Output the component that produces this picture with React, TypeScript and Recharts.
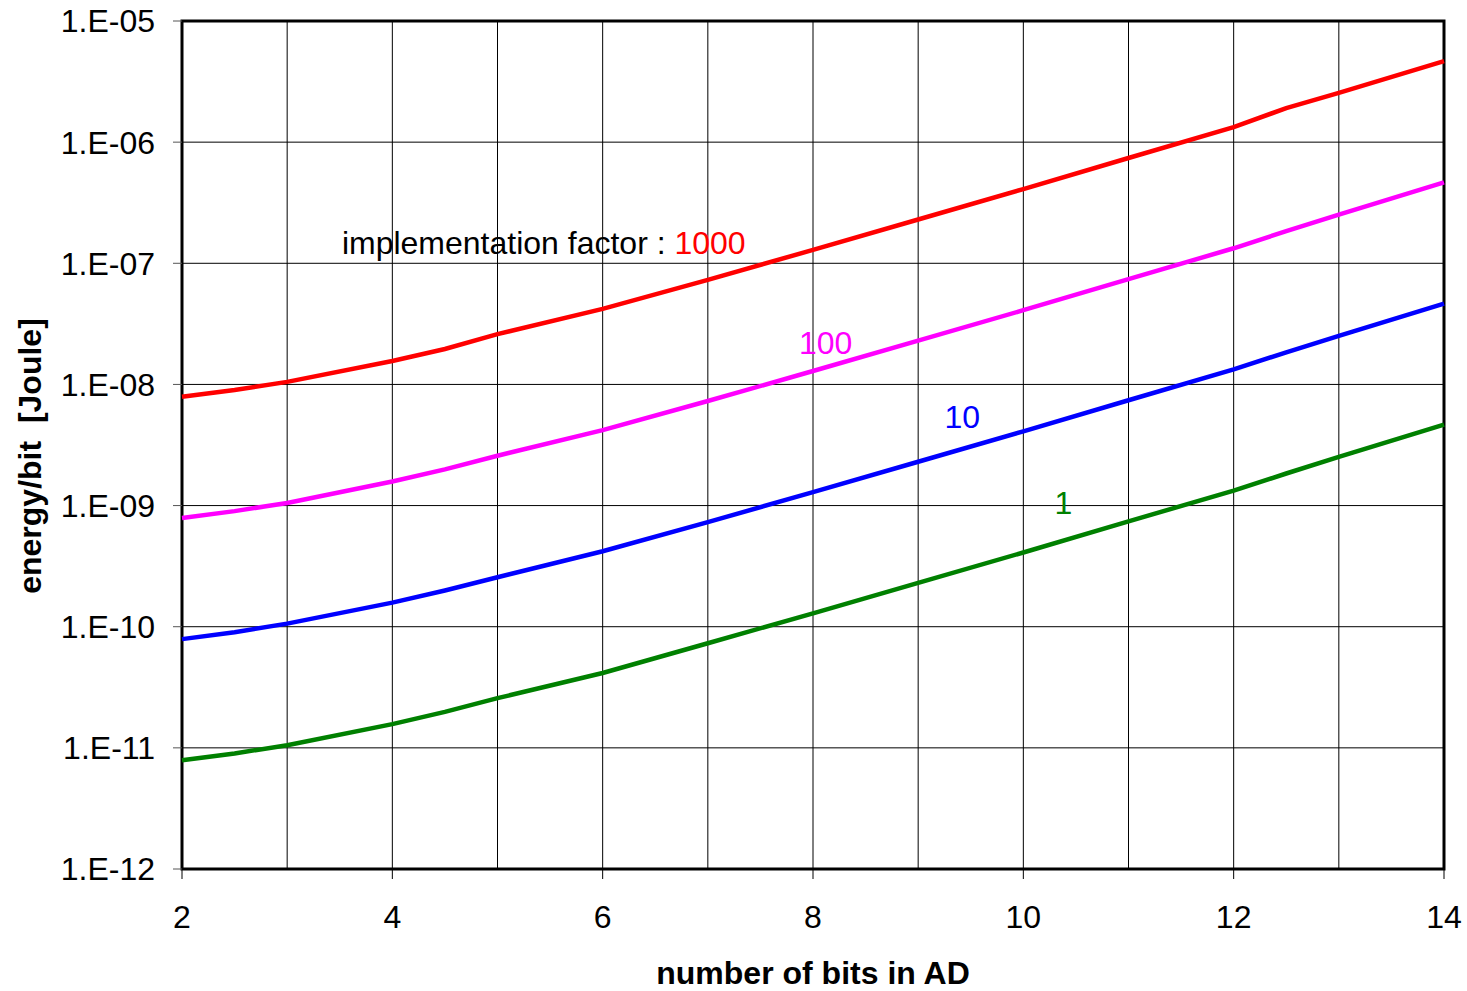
import { CartesianGrid, Line, LineChart, ReferenceArea, ReferenceDot, ReferenceLine, XAxis, YAxis } from 'recharts'

const bits = [2, 2.5, 3, 4, 4.5, 5, 6, 7, 8, 9, 10, 11, 12, 12.5, 13, 14]

// energy per bit [J] for each implementation factor
const factor1000 = [7.9e-9, 9.0e-9, 1.05e-8, 1.56e-8, 1.96e-8, 2.6e-8, 4.2e-8, 7.3e-8, 1.29e-7, 2.3e-7, 4.1e-7, 7.4e-7, 1.33e-6, 1.91e-6, 2.55e-6, 4.67e-6]
const factor100 = [7.9e-10, 9.0e-10, 1.05e-9, 1.58e-9, 1.99e-9, 2.58e-9, 4.2e-9, 7.3e-9, 1.29e-8, 2.3e-8, 4.1e-8, 7.4e-8, 1.33e-7, 1.84e-7, 2.52e-7, 4.65e-7]
const factor10 = [7.9e-11, 9.0e-11, 1.06e-10, 1.58e-10, 1.99e-10, 2.56e-10, 4.2e-10, 7.3e-10, 1.29e-9, 2.3e-9, 4.1e-9, 7.4e-9, 1.33e-8, 1.84e-8, 2.52e-8, 4.65e-8]
const factor1 = [7.9e-12, 9.0e-12, 1.05e-11, 1.57e-11, 1.98e-11, 2.57e-11, 4.15e-11, 7.3e-11, 1.29e-10, 2.3e-10, 4.1e-10, 7.4e-10, 1.33e-9, 1.84e-9, 2.52e-9, 4.65e-9]

const xTicks = [2, 4, 6, 8, 10, 12, 14]
const xGrid = [3, 4, 5, 6, 7, 8, 9, 10, 11, 12, 13]
const yTicks = [1e-12, 1e-11, 1e-10, 1e-9, 1e-8, 1e-7, 1e-6, 1e-5]
const yTickLabels = ['1.E-12', '1.E-11', '1.E-10', '1.E-09', '1.E-08', '1.E-07', '1.E-06', '1.E-05']

const data = bits.map((b, i) => ({
  bits: b,
  f1000: factor1000[i],
  f100: factor100[i],
  f10: factor10[i],
  f1: factor1[i]
}))

const FONT = '"Liberation Sans", Arial, sans-serif'

const textLabel = (label: string, color: string) => (props: any) => (
  <text x={props.cx} y={props.cy} dy="0.35em" textAnchor="middle" fontFamily={FONT} fontSize={32} fill={color}>
    {label}
  </text>
)

export default function App() {
  return (
    <div style={{ position: 'absolute', left: 0, top: 0, width: 1467, height: 991, background: '#fff' }}>
      <LineChart width={1467} height={991} data={data} margin={{ top: 21, right: 23, left: 0, bottom: 0 }}>
        <CartesianGrid vertical={false} stroke="#000" strokeWidth={1} />
        {xGrid.map(v => (
          <ReferenceLine key={v} x={v} stroke="#000" strokeWidth={1} ifOverflow="extendDomain" />
        ))}
        <XAxis
          dataKey="bits"
          type="number"
          domain={[2, 14]}
          ticks={xTicks}
          height={122}
          axisLine={false}
          tickSize={10}
          tickMargin={26}
          tickLine={{ stroke: '#000' }}
          tick={{ fontSize: 32, fontFamily: FONT, fill: '#000' }}
          label={({ viewBox }: any) => (
            <text
              x={viewBox.x + viewBox.width / 2}
              y={984}
              textAnchor="middle"
              fontFamily={FONT}
              fontSize={32}
              fontWeight="bold"
              fill="#000"
            >
              number of bits in AD
            </text>
          )}
        />
        <YAxis
          scale="log"
          domain={[1e-12, 1e-5]}
          allowDataOverflow
          ticks={yTicks}
          width={182}
          axisLine={false}
          tickSize={9}
          tickMargin={18}
          tickLine={{ stroke: '#555' }}
          tickFormatter={(v: number) => yTickLabels[yTicks.findIndex(t => Math.abs(Math.log10(t) - Math.log10(v)) < 0.01)] ?? ''}
          tick={{ fontSize: 32, fontFamily: FONT, fill: '#000' }}
          label={() => (
            <text
              x={30}
              y={456}
              transform="rotate(-90 30 456)"
              dy="0.35em"
              textAnchor="middle"
              fontFamily={FONT}
              fontSize={32}
              fontWeight="bold"
              fill="#000"
            >
              {'energy/bit\u00a0\u00a0[Joule]'}
            </text>
          )}
        />
        <ReferenceArea x1={2} x2={14} y1={1e-12} y2={1e-5} fill="none" stroke="#000" strokeWidth={3} ifOverflow="visible" />
        <Line type="linear" dataKey="f1000" stroke="#ff0000" strokeWidth={4.5} dot={false} isAnimationActive={false} />
        <Line type="linear" dataKey="f100" stroke="#ff00ff" strokeWidth={4.5} dot={false} isAnimationActive={false} />
        <Line type="linear" dataKey="f10" stroke="#0000ff" strokeWidth={4.5} dot={false} isAnimationActive={false} />
        <Line type="linear" dataKey="f1" stroke="#008000" strokeWidth={4.5} dot={false} isAnimationActive={false} />
        <ReferenceDot
          x={5.44}
          y={1.47e-7}
          r={0}
          ifOverflow="visible"
          shape={(props: any) => (
            <text x={props.cx} y={props.cy} dy="0.35em" textAnchor="middle" fontFamily={FONT} fontSize={32} fill="#000">
              implementation factor : <tspan fill="#ff0000">1000</tspan>
            </text>
          )}
        />
        <ReferenceDot x={8.12} y={2.2e-8} r={0} ifOverflow="visible" shape={textLabel('100', '#ff00ff')} />
        <ReferenceDot x={9.42} y={5.38e-9} r={0} ifOverflow="visible" shape={textLabel('10', '#0000ff')} />
        <ReferenceDot x={10.38} y={1.05e-9} r={0} ifOverflow="visible" shape={textLabel('1', '#008000')} />
      </LineChart>
    </div>
  )
}
